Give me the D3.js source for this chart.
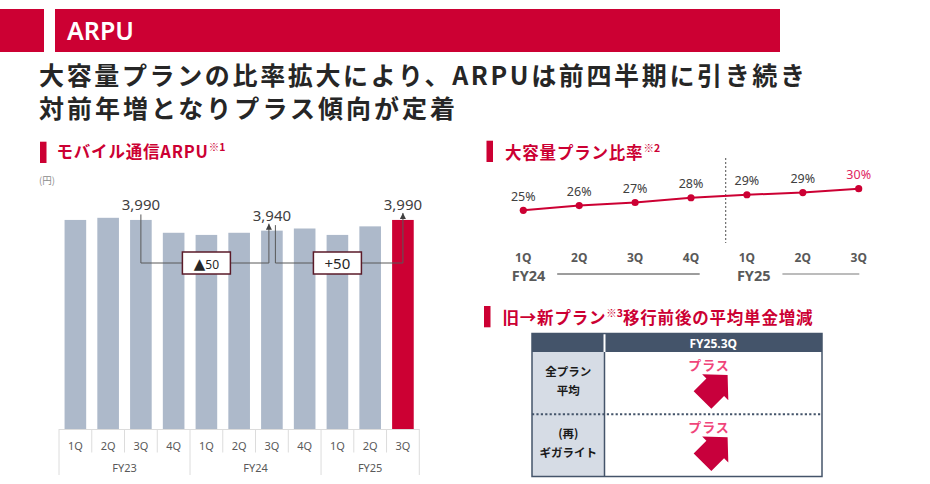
<!DOCTYPE html>
<html>
<head>
<meta charset="utf-8">
<script src="https://cdn.jsdelivr.net/npm/d3@7"></script>
<style>
  body { margin: 0; background: #fff; }
  svg { display: block; }
  text { font-family: "Noto Sans CJK JP", "Noto Sans", sans-serif; }
  .num { font-family: "Noto Sans", "Liberation Sans", sans-serif; }
</style>
</head>
<body>
<svg id="chart" width="930" height="484"></svg>
<script>
// ---- data ----
const arpuQuarters = ['1Q', '2Q', '3Q', '4Q', '1Q', '2Q', '3Q', '4Q', '1Q', '2Q', '3Q'];
const arpuValues = [3990, 4000, 3990, 3930, 3920, 3930, 3940, 3950, 3920, 3960, 3990];
const arpuYears = ['FY23', 'FY24', 'FY25'];
const arpuYearStart = [0, 4, 8];          // index of first quarter of each FY
const arpuLabelled = [2, 6, 10];          // bars that carry a value label
const arpuChanges = [
  { from: 2, to: 6, text: '▲50' },
  { from: 6, to: 10, text: '+50' }
];

const ratioQuarters = ['1Q', '2Q', '3Q', '4Q', '1Q', '2Q', '3Q'];
const ratioValues = [25.0, 26.1, 26.8, 27.9, 28.6, 29.1, 30.0];
const ratioYears = ['FY24', 'FY25'];
const ratioYearStart = [0, 4];

const planHeader = 'FY25.3Q';
const planRows = [['全プラン', '平均'], ['(再)', 'ギガライト']];
const planChange = ['プラス', 'プラス'];

// ---- setup ----
const svg = d3.select('#chart');
const RED = '#cc0033';
const GREY_TXT = '#595959';

// top banner
svg.append('rect').attr('x', 0).attr('y', 9).attr('width', 44).attr('height', 43).attr('fill', RED);
svg.append('rect').attr('x', 55).attr('y', 9).attr('width', 725).attr('height', 43).attr('fill', RED);
svg.append('text').attr('class', 'num')
  .attr('x', 67).attr('y', 39.5)
  .attr('fill', '#fff').attr('font-size', 25).attr('font-weight', 600)
  .text('ARPU');

// headline
const headline = [
  { t: '大容量プランの比率拡大により、ARPUは前四半期に引き続き', y: 84.5, w: 766 },
  { t: '対前年増となりプラス傾向が定着', y: 117.5, w: 416 }
];
svg.selectAll('text.headline').data(headline).enter().append('text')
  .attr('class', 'headline')
  .attr('x', 39).attr('y', d => d.y)
  .attr('textLength', d => d.w).attr('lengthAdjust', 'spacing')
  .attr('font-size', 25).attr('font-weight', 700).attr('fill', '#262626')
  .text(d => d.t);

// section titles
function sectionTitle(mx, my, tx, ty, main, sup, rest) {
  svg.append('rect').attr('x', mx).attr('y', my).attr('width', 6.5).attr('height', 21.3).attr('fill', RED);
  const t = svg.append('text').attr('x', tx).attr('y', ty)
    .attr('fill', RED).attr('font-size', 16.5).attr('font-weight', 700)
    .attr('letter-spacing', 0.8);
  t.append('tspan').text(main);
  t.append('tspan').attr('font-size', 10.5).attr('dy', -7).attr('letter-spacing', 0).text(sup);
  if (rest) t.append('tspan').attr('dy', 7).text(rest);
}
sectionTitle(40, 141.7, 56.5, 158, 'モバイル通信ARPU', '※1');
sectionTitle(486.5, 140.7, 505, 158.5, '大容量プラン比率', '※2');
sectionTitle(484, 306, 502.5, 323.5, '旧→新プラン', '※3', '移行前後の平均単金増減');

// ---- left: ARPU bars ----
const barBase = 429;
const xb = d3.scaleBand().domain(d3.range(arpuValues.length))
  .range([59, 419.3]).paddingInner(0.34).paddingOuter(0.17);
const yb = d3.scaleLinear().domain([3013, 4000]).range([barBase, 217.8]);
const cellLeft = i => xb(i) - (xb.step() - xb.bandwidth()) / 2;
const mid = i => xb(i) + xb.bandwidth() / 2;

svg.append('text').attr('x', 39).attr('y', 183.5).attr('font-size', 9.5).attr('fill', '#8c8c8c').text('(円)');

const gBars = svg.append('g');
gBars.selectAll('rect').data(arpuValues).enter().append('rect')
  .attr('x', (d, i) => xb(i))
  .attr('y', d => yb(d))
  .attr('width', xb.bandwidth())
  .attr('height', d => barBase - yb(d))
  .attr('fill', (d, i) => i === arpuValues.length - 1 ? RED : '#adb9ca');

// category table under the bars
const gAxis = svg.append('g').attr('stroke', '#dcdcdc').attr('stroke-width', 1);
gAxis.append('line').attr('x1', cellLeft(0)).attr('x2', cellLeft(0) + xb.step() * arpuValues.length)
  .attr('y1', barBase + 0.5).attr('y2', barBase + 0.5);
d3.range(arpuValues.length + 1).forEach(i => {
  const isGroup = arpuYearStart.includes(i) || i === arpuValues.length;
  const x = cellLeft(0) + i * xb.step();
  gAxis.append('line').attr('x1', x).attr('x2', x)
    .attr('y1', barBase).attr('y2', isGroup ? 475 : 452.5);
});
svg.append('g').selectAll('text').data(arpuQuarters).enter().append('text')
  .attr('class', 'num')
  .attr('x', (d, i) => mid(i)).attr('y', 449.5)
  .attr('text-anchor', 'middle').attr('font-size', 11).attr('fill', GREY_TXT)
  .text(d => d);
svg.append('g').selectAll('text').data(arpuYears).enter().append('text')
  .attr('class', 'num')
  .attr('x', (d, i) => {
    const a = arpuYearStart[i];
    const b = i + 1 < arpuYearStart.length ? arpuYearStart[i + 1] : arpuValues.length;
    return cellLeft(0) + (a + b) / 2 * xb.step();
  })
  .attr('y', 472).attr('text-anchor', 'middle').attr('font-size', 11).attr('fill', GREY_TXT)
  .text(d => d);

// value labels
const labelY = i => yb(arpuValues[i]) - 9.5;
svg.append('g').selectAll('text').data(arpuLabelled).enter().append('text')
  .attr('class', 'num')
  .attr('x', i => mid(i)).attr('y', i => labelY(i))
  .attr('text-anchor', 'middle').attr('font-size', 15).attr('fill', '#404040')
  .text(i => d3.format(',')(arpuValues[i]));

// change connectors
svg.append('defs').append('marker')
  .attr('id', 'tip').attr('viewBox', '0 0 10 10').attr('refX', 10).attr('refY', 5)
  .attr('markerWidth', 6).attr('markerHeight', 6).attr('markerUnits', 'userSpaceOnUse')
  .attr('orient', 'auto')
  .append('path').attr('d', 'M0,0 L10,5 L0,10 Z').attr('fill', '#404040');

const linkY = 263;
const boxW = 48, boxH = 22;
const gLinks = svg.append('g');
arpuChanges.forEach(c => {
  const xa = mid(c.from) + (arpuChanges.some(d => d.to === c.from) ? 3.5 : 0);
  const xe = mid(c.to) - (arpuChanges.some(d => d.from === c.to) ? 3 : 0);
  const bx = mid((c.from + c.to) / 2);
  gLinks.append('path')
    .attr('d', `M${xa},${labelY(c.from) + 4}V${linkY}H${bx - boxW / 2}`)
    .attr('fill', 'none').attr('stroke', '#595959').attr('stroke-width', 1);
  gLinks.append('path')
    .attr('d', `M${bx + boxW / 2},${linkY}H${xe}V${labelY(c.to) + 2.5}`)
    .attr('fill', 'none').attr('stroke', '#595959').attr('stroke-width', 1)
    .attr('marker-end', 'url(#tip)');
  gLinks.append('rect')
    .attr('x', bx - boxW / 2).attr('y', linkY - boxH / 2)
    .attr('width', boxW).attr('height', boxH)
    .attr('fill', '#fff').attr('stroke', '#5a1a28').attr('stroke-width', 1.5);
  const t = gLinks.append('text').attr('class', 'num')
    .attr('x', bx).attr('y', linkY + 5.5).attr('text-anchor', 'middle')
    .attr('fill', '#262626').attr('font-size', 15);
  if (c.text[0] === '▲') {
    t.append('tspan').attr('font-size', 15).style('font-family', '"DejaVu Sans", sans-serif').text('▲');
    t.append('tspan').attr('font-size', 12).text(c.text.slice(1));
  } else {
    t.text(c.text);
  }
});

// ---- right top: plan ratio line ----
const xl = d3.scalePoint().domain(d3.range(ratioValues.length)).range([523.3, 858.7]);
const yl = d3.scaleLinear().domain([20, 35]).range([231.9, 167.1]);

const divX = xl(3) + (xl(4) - xl(3)) * 0.62;
svg.append('line').attr('x1', divX).attr('x2', divX).attr('y1', 158).attr('y2', 243)
  .attr('stroke', '#6e6e6e').attr('stroke-width', 1.2).attr('stroke-dasharray', '2,2');

svg.append('path').datum(ratioValues)
  .attr('d', d3.line().x((d, i) => xl(i)).y(d => yl(d)))
  .attr('fill', 'none').attr('stroke', RED).attr('stroke-width', 2);
svg.append('g').selectAll('circle').data(ratioValues).enter().append('circle')
  .attr('cx', (d, i) => xl(i)).attr('cy', d => yl(d)).attr('r', 3.6).attr('fill', RED);
svg.append('g').selectAll('text').data(ratioValues).enter().append('text')
  .attr('class', 'num')
  .attr('x', (d, i) => xl(i)).attr('y', d => yl(d) - 9.5)
  .attr('text-anchor', 'middle').attr('font-size', 12.5)
  .attr('fill', (d, i) => i === ratioValues.length - 1 ? '#e0245e' : '#404040')
  .text(d => Math.round(d) + '%');
svg.append('g').selectAll('text').data(ratioQuarters).enter().append('text')
  .attr('class', 'num')
  .attr('x', (d, i) => xl(i)).attr('y', 262)
  .attr('text-anchor', 'middle').attr('font-size', 12).attr('font-weight', 700)
  .attr('fill', GREY_TXT)
  .text(d => d);

ratioYears.forEach((y, k) => {
  const first = ratioYearStart[k];
  const last = k + 1 < ratioYearStart.length ? ratioYearStart[k + 1] - 1 : ratioValues.length - 1;
  const lx = xl(first) - (k === 0 ? 11.6 : 10);
  svg.append('text').attr('class', 'num')
    .attr('x', lx).attr('y', 281)
    .attr('font-size', 14.5).attr('font-weight', 700).attr('fill', GREY_TXT)
    .text(y);
  svg.append('line')
    .attr('x1', lx + 45.5).attr('x2', xl(last) + (k === 0 ? 8.7 : 0.6))
    .attr('y1', 274).attr('y2', 274)
    .attr('stroke', k === 0 ? '#3a3a3a' : '#a6a6a6').attr('stroke-width', k === 0 ? 1 : 1.5);
});

// ---- right bottom: plan migration table ----
const tx0 = 532, tx1 = 822, ty0 = 333.5, tyH = 352, ty1 = 476.5, tcol = 604.5;
const DARK = '#44546a';
const rowH = (ty1 - tyH) / planRows.length;
const gTab = svg.append('g');
gTab.append('rect').attr('x', tx0).attr('y', ty0).attr('width', tx1 - tx0).attr('height', tyH - ty0).attr('fill', DARK);
gTab.append('rect').attr('x', tx0).attr('y', tyH).attr('width', tcol - tx0).attr('height', ty1 - tyH).attr('fill', '#d6dce5');
gTab.append('line').attr('x1', tcol).attr('x2', tcol).attr('y1', ty0).attr('y2', tyH)
  .attr('stroke', '#fff').attr('stroke-width', 2);
gTab.append('line').attr('x1', tcol).attr('x2', tcol).attr('y1', tyH).attr('y2', ty1)
  .attr('stroke', DARK).attr('stroke-width', 1.5);
gTab.append('rect').attr('x', tx0).attr('y', ty0).attr('width', tx1 - tx0).attr('height', ty1 - ty0)
  .attr('fill', 'none').attr('stroke', DARK).attr('stroke-width', 1.5);
gTab.append('text').attr('class', 'num')
  .attr('x', (tcol + tx1) / 2).attr('y', 348).attr('text-anchor', 'middle')
  .attr('fill', '#fff').attr('font-size', 12).attr('font-weight', 700)
  .text(planHeader);

d3.range(1, planRows.length).forEach(r => {
  gTab.append('line').attr('x1', tx0).attr('x2', tx1)
    .attr('y1', tyH + r * rowH).attr('y2', tyH + r * rowH)
    .attr('stroke', DARK).attr('stroke-width', 2.2).attr('stroke-dasharray', '2.2,2.2');
});

// fat diagonal arrow, drawn in local coords then rotated
const arrowShape = 'M0,-12.5 L18,-12.5 L18,-18.5 L35.5,0 L18,18.5 L18,12.5 L0,12.5 Z';
planRows.forEach((lines, r) => {
  const top = tyH + r * rowH;
  gTab.selectAll(null).data(lines).enter().append('text')
    .attr('x', (tx0 + tcol) / 2).attr('y', (d, k) => top + 24 + k * 19.2)
    .attr('text-anchor', 'middle').attr('font-size', 11.5).attr('font-weight', 700)
    .attr('fill', '#1a1a1a')
    .text(d => d);
  gTab.append('text')
    .attr('x', 709).attr('y', top + 17.5).attr('text-anchor', 'middle')
    .attr('font-size', 13).attr('font-weight', 700).attr('fill', '#f0457a')
    .attr('letter-spacing', 1)
    .text(planChange[r]);
  gTab.append('path')
    .attr('d', arrowShape)
    .attr('transform', `translate(702.5,${top + 48}) rotate(-45)`)
    .attr('fill', '#c8003c');
});
</script>
</body>
</html>
